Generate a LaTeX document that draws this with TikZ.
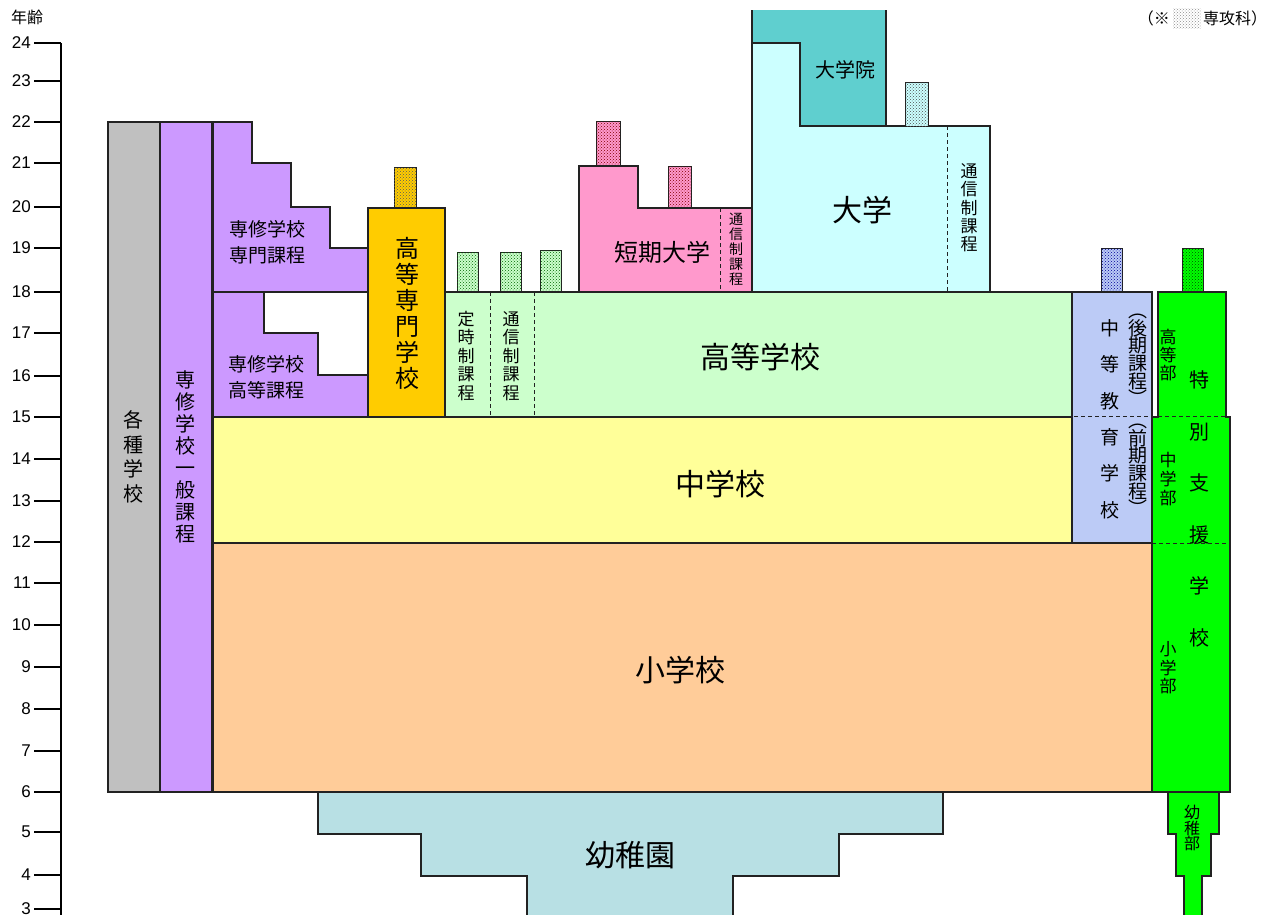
\documentclass[tikz,border=0pt]{standalone}
\usepackage{fontspec}
\setmainfont{Liberation Sans}
\newfontfamily\jp{Noto Sans CJK JP}
\usetikzlibrary{patterns}
\definecolor{cGray}{HTML}{C0C0C0}
\definecolor{cPurple}{HTML}{CC99FF}
\definecolor{cOrange}{HTML}{FFCC00}
\definecolor{cHigh}{HTML}{CCFFCC}
\definecolor{cMid}{HTML}{FFFF99}
\definecolor{cElem}{HTML}{FFCC99}
\definecolor{cKinder}{HTML}{B8E0E4}
\definecolor{cUniv}{HTML}{CCFFFF}
\definecolor{cGrad}{HTML}{5FCFCF}
\definecolor{cJunior}{HTML}{FF99CC}
\definecolor{cSec}{HTML}{BCCBF6}
\definecolor{cSpecial}{HTML}{00FF00}
\definecolor{cLine}{HTML}{222222}
\tikzset{
  box/.style={draw=cLine, line width=1.2pt},
  divider/.style={draw=cLine, line width=0.9pt, dash pattern=on 4pt off 3pt},
  senkou/.style={draw=cLine, line width=1pt, postaction={pattern=crosshatch dots, pattern color=#1}},
  vt/.style n args={2}{font={\jp\fontsize{#1}{#2}\selectfont}, align=center, inner sep=0pt},
  agelbl/.style={anchor=east, font=\fontsize{17}{17}\selectfont, inner sep=0pt},
  tick/.style={line width=2pt},
}
\begin{document}
\begin{tikzpicture}[x=1pt,y=-1pt]
\useasboundingbox (0,0) rectangle (1277,914);
\clip (0,0) rectangle (1277,914);

% axis
\node[vt={16}{16}] (agetitle) at (27,17) {年齢};
\draw[tick] (61,43) -- (61,920);
\foreach \a/\y in {24/43,23/81,22/122,21/163,20/207,19/248,18/292,17/333,16/376,15/417,14/459,13/501,12/542,11/583,10/625,9/667,8/709,7/751,6/792,5/832,4/875,3/909}{
  \draw[tick] (34,\y) -- (61,\y);
  \node[agelbl] (age\a) at (31,\y) {\a};
}

% 各種学校 / 専修学校一般課程
\filldraw[box, fill=cGray] (108,122) rectangle (160,792);
\filldraw[box, fill=cPurple] (160,122) rectangle (212,792);
\node[vt={20}{24.5}] (kakushu) at (133,457) {各\\種\\学\\校};
\node[vt={20}{22}] (ippan) at (185,457) {専\\修\\学\\校\\一\\般\\課\\程};

% 専修学校 専門課程 / 高等課程
\filldraw[box, fill=cPurple] (213,122) -- (252,122) -- (252,163) -- (291,163) -- (291,207) -- (330,207) -- (330,248) -- (368,248) -- (368,292) -- (213,292) -- cycle;
\filldraw[box, fill=cPurple] (213,292) -- (264,292) -- (264,333) -- (318,333) -- (318,375) -- (368,375) -- (368,417) -- (213,417) -- cycle;
\node[vt={19}{26}] (senmon) at (267,242) {専修学校\\専門課程};
\node[vt={19}{26}] (koutoukatei) at (266,377) {専修学校\\高等課程};

% 小学校 / 中学校
\filldraw[box, fill=cElem] (213,543) rectangle (1152,792);
\filldraw[box, fill=cMid] (213,417) rectangle (1072,543);
\node[vt={30}{30}] (shou) at (680,670) {小学校};
\node[vt={30}{30}] (chuu) at (720,484) {中学校};

% 高等専門学校
\filldraw[senkou=black!65, fill=cOrange] (394,167) rectangle (416,208);
\filldraw[box, fill=cOrange] (368,208) rectangle (445,417);
\node[vt={24}{26}] (kousen) at (407,313) {高\\等\\専\\門\\学\\校};

% 高等学校
\filldraw[senkou=green!40!black, fill=cHigh] (457,252) rectangle (478,292);
\filldraw[senkou=green!40!black, fill=cHigh] (500,252) rectangle (521,292);
\filldraw[senkou=green!40!black, fill=cHigh] (540,250) rectangle (561,292);
\filldraw[box, fill=cHigh] (445,292) rectangle (1072,417);
\draw[divider] (490,292) -- (490,417);
\draw[divider] (534,292) -- (534,417);
\node[vt={17}{18.5}] (teiji) at (466,356) {定\\時\\制\\課\\程};
\node[vt={17}{18.5}] (tsushinH) at (511,356) {通\\信\\制\\課\\程};
\node[vt={30}{30}] (koukou) at (760,357) {高等学校};

% 短期大学
\filldraw[senkou=red!50!black, fill=cJunior] (596,121) rectangle (620,166);
\filldraw[senkou=red!50!black, fill=cJunior] (668,166) rectangle (691,208);
\filldraw[box, fill=cJunior] (579,166) -- (638,166) -- (638,208) -- (752,208) -- (752,292) -- (579,292) -- cycle;
\draw[divider] (720,208) -- (720,292);
\node[vt={24}{24}] (tandai) at (662,252) {短期大学};
\node[vt={14}{15}] (tsushinJ) at (736,249) {通\\信\\制\\課\\程};

% 大学院 / 大学
\fill[cGrad] (752,10) -- (886,10) -- (886,126) -- (800,126) -- (800,43) -- (752,43) -- cycle;
\draw[box] (752,10) -- (752,43);
\draw[box] (886,10) -- (886,126);
\filldraw[box, fill=cUniv] (752,43) -- (800,43) -- (800,126) -- (990,126) -- (990,292) -- (752,292) -- cycle;
\filldraw[senkou=black!70, fill=cUniv] (905,82) rectangle (928,126);
\draw[divider] (947,126) -- (947,292);
\node[vt={20}{20}] (daigakuin) at (845,70) {大学院};
\node[vt={30}{30}] (daigaku) at (862,210) {大学};
\node[vt={17}{18.3}] (tsushinU) at (969,208) {通\\信\\制\\課\\程};

% 中等教育学校
\filldraw[senkou=blue!60!black, fill=cSec] (1101,248) rectangle (1122,292);
\filldraw[box, fill=cSec] (1072,292) rectangle (1152,543);
\node[vt={19}{36.4}] (chuutou) at (1110,419) {中\\等\\教\\育\\学\\校};
\node[vt={19}{17.6}] (kouki) at (1138,360) {︵\\後\\期\\課\\程\\︶};
\node[vt={19}{17.6}] (zenki) at (1138,470) {︵\\前\\期\\課\\程\\︶};

% 特別支援学校
\filldraw[senkou=green!30!black, fill=cSpecial] (1182,248) rectangle (1203,292);
\filldraw[box, fill=cSpecial] (1158,292) -- (1226,292) -- (1226,417) -- (1230,417) -- (1230,792) -- (1152,792) -- (1152,417) -- (1158,417) -- cycle;
\filldraw[box, fill=cSpecial] (1168,792) -- (1219,792) -- (1219,834) -- (1211,834) -- (1211,876) -- (1202,876) -- (1202,930) -- (1184,930) -- (1184,876) -- (1176,876) -- (1176,834) -- (1168,834) -- cycle;
\draw[divider] (983,416) -- (1226,416);
\draw[divider] (1152,543) -- (1226,543);
\node[vt={20}{51.6}] (tokubetsu) at (1199,509) {特\\別\\支\\援\\学\\校};
\node[vt={17}{18}] (koutoubu) at (1168,355) {高\\等\\部};
\node[vt={17}{19}] (chuugakubu) at (1168,479) {中\\学\\部};
\node[vt={17}{18.5}] (shougakubu) at (1168,668) {小\\学\\部};
\node[vt={16}{15.5}] (youchibu) at (1192,828) {幼\\稚\\部};

% 幼稚園
\filldraw[box, fill=cKinder] (318,792) -- (943,792) -- (943,834) -- (839,834) -- (839,876) -- (733,876) -- (733,930) -- (527,930) -- (527,876) -- (421,876) -- (421,834) -- (318,834) -- cycle;
\node[vt={30}{30}] (youchien) at (630,855) {幼稚園};

% legend
\node[vt={16}{16}, anchor=east] (legA) at (1170,18) {（※};
\fill[pattern=crosshatch dots, pattern color=black!45] (1173,8) rectangle (1201,28);
\node[vt={16}{16}, anchor=west] (legB) at (1203,18) {専攻科）};
\end{tikzpicture}
\end{document}
